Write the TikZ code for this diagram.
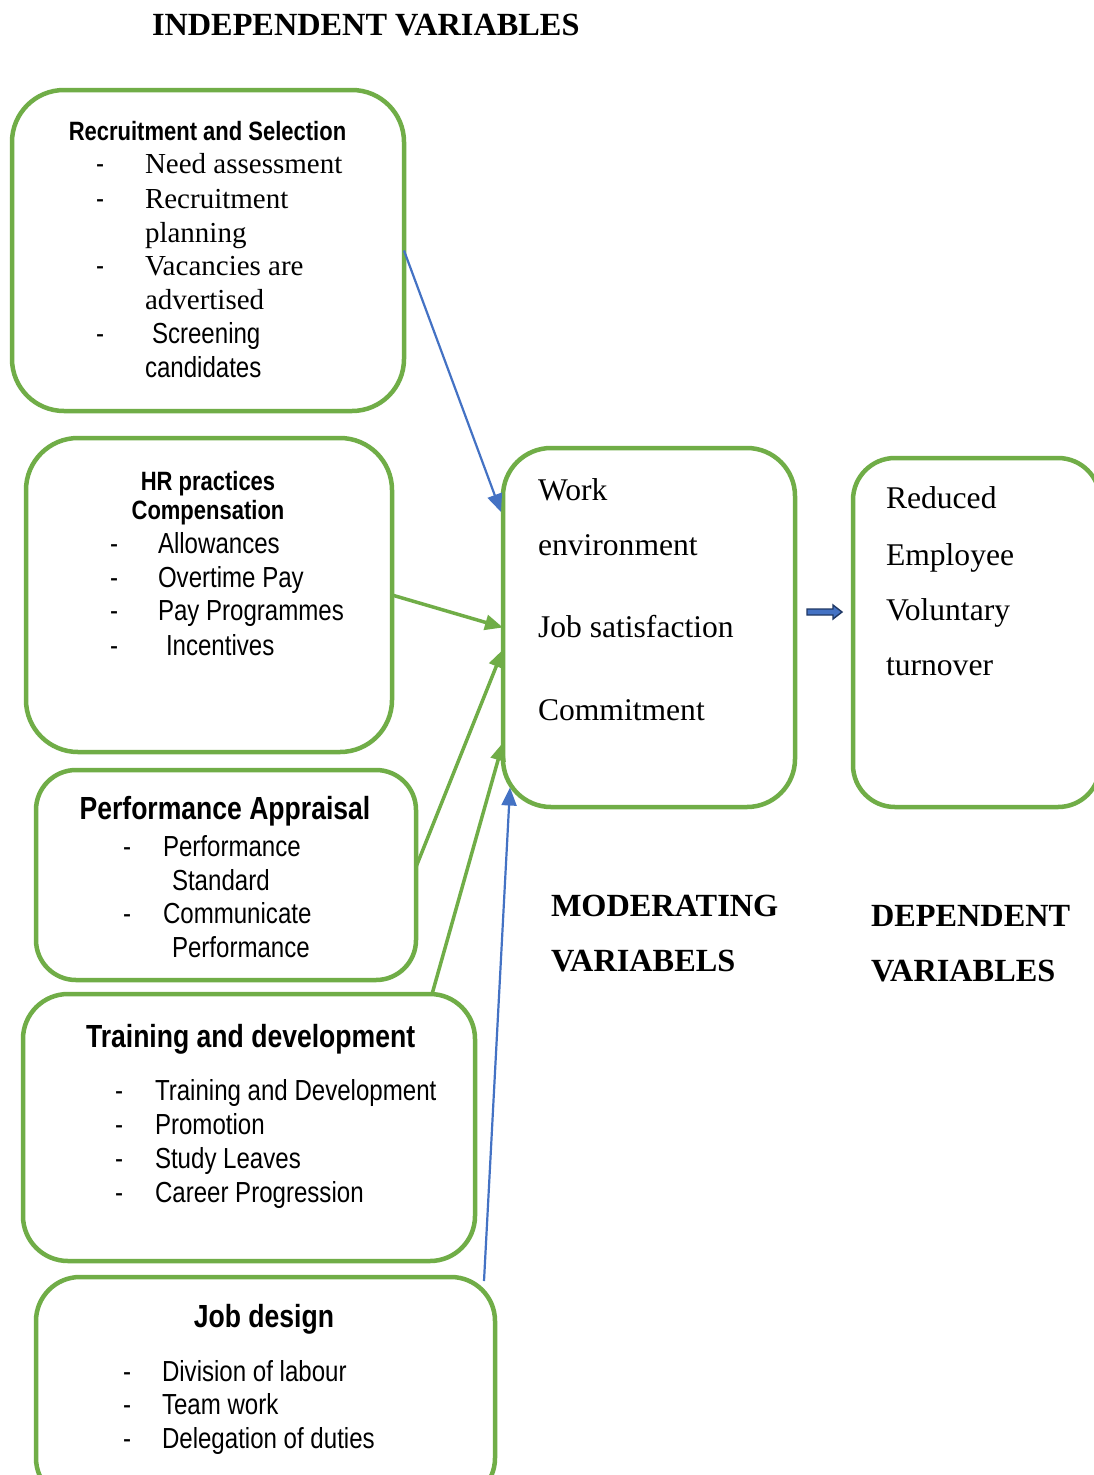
\documentclass[tikz,border=0pt]{standalone}
\usepackage{fontspec}
\setmainfont{Liberation Serif}
\newfontfamily\narrow[FakeStretch=0.83]{Liberation Sans}
\usetikzlibrary{arrows.meta,calc}
\definecolor{hrgreen}{HTML}{70AD47}
\definecolor{hrblue}{HTML}{4472C4}
\definecolor{hrnavy}{HTML}{203864}

\begin{document}
\begin{tikzpicture}[x=1pt,y=-1pt,
  frame/.style={draw=hrgreen, line width=4.5pt, rounded corners=#1,
                inner sep=0pt, outer sep=0pt, anchor=north west},
  lbl/.style={anchor=base west, inner sep=0pt, outer sep=0pt},
  ctr/.style={anchor=base, inner sep=0pt, outer sep=0pt},
  txtrm/.style={font=\fontsize{29}{34}\selectfont},
  txtsf/.style={font=\narrow\fontsize{29}{34}\selectfont},
  hdsf/.style={font=\narrow\bfseries\fontsize{26.5}{30}\selectfont},
  hdsfl/.style={font=\narrow\bfseries\fontsize{32}{38}\selectfont},
  txtbig/.style={font=\fontsize{31.6}{38}\selectfont},
  hdrm/.style={font=\bfseries\fontsize{32.3}{38}\selectfont},
  gline/.style={draw=hrgreen, line width=3.5pt, -{Triangle[length=18pt,width=15pt]}},
  bline/.style={draw=hrblue, line width=2.2pt, -{Triangle[length=18pt,width=15pt]}},
]
\useasboundingbox (0,0) rectangle (1094,1475);
\clip (0,0) rectangle (1094,1475);
\fill[white] (0,0) rectangle (1094,1475);

% ---------- headings ----------
\node[hdrm, lbl] (hind) at (152,35) {INDEPENDENT VARIABLES};
\node[hdrm, lbl] (hmod1) at (551,916) {MODERATING};
\node[hdrm, lbl] (hmod2) at (551,971) {VARIABELS};
\node[hdrm, lbl] (hdep1) at (871,926) {DEPENDENT};
\node[hdrm, lbl] (hdep2) at (871,981) {VARIABLES};

% ---------- frames ----------
\node[frame=52, minimum width=392pt, minimum height=321pt] (rs)  at (12,90) {};
\node[frame=52, minimum width=366pt, minimum height=314pt] (hr)  at (26,438) {};
\node[frame=40, minimum width=380pt, minimum height=210pt] (pa)  at (36,770) {};
\node[frame=45, minimum width=452pt, minimum height=267pt] (td)  at (23,994) {};
\node[frame=44, minimum width=459pt, minimum height=225pt] (jd)  at (36,1277) {};
\node[frame=48, minimum width=292pt, minimum height=359pt] (mid) at (503,448) {};
\node[frame=42, minimum width=247pt, minimum height=349pt] (dep) at (853,458) {};

% ---------- recruitment and selection ----------
\node[hdsf, ctr] (rsh) at (207.5,140) {Recruitment and Selection};
\node[txtsf, lbl] (rsd1) at (96,173) {-};
\node[txtrm, lbl] (rs1) at (145,173) {Need assessment};
\node[txtsf, lbl] (rsd2) at (96,208) {-};
\node[txtrm, lbl] (rs2) at (145,208) {Recruitment};
\node[txtrm, lbl] (rs3) at (145,242) {planning};
\node[txtsf, lbl] (rsd3) at (96,275) {-};
\node[txtrm, lbl] (rs4) at (145,275) {Vacancies are};
\node[txtrm, lbl] (rs5) at (145,309) {advertised};
\node[txtsf, lbl] (rsd4) at (96,343) {-};
\node[txtsf, lbl] (rs6) at (152,343) {Screening};
\node[txtsf, lbl] (rs7) at (145,377) {candidates};

% ---------- HR practices ----------
\node[hdsf, ctr] (hrh1) at (208,490) {HR practices};
\node[hdsf, ctr] (hrh2) at (208,519) {Compensation};
\node[txtsf, lbl] (hrd1) at (110,553) {-};
\node[txtsf, lbl] (hr1) at (158,553) {Allowances};
\node[txtsf, lbl] (hrd2) at (110,587) {-};
\node[txtsf, lbl] (hr2) at (158,587) {Overtime Pay};
\node[txtsf, lbl] (hrd3) at (110,620) {-};
\node[txtsf, lbl] (hr3) at (158,620) {Pay Programmes};
\node[txtsf, lbl] (hrd4) at (110,655) {-};
\node[txtsf, lbl] (hr4) at (166,655) {Incentives};

% ---------- performance appraisal ----------
\node[hdsfl, ctr] (pah) at (225,819) {Performance Appraisal};
\node[txtsf, lbl] (pad1) at (123,856) {-};
\node[txtsf, lbl] (pa1) at (163,856) {Performance};
\node[txtsf, lbl] (pa2) at (172,890) {Standard};
\node[txtsf, lbl] (pad2) at (123,923) {-};
\node[txtsf, lbl] (pa3) at (163,923) {Communicate};
\node[txtsf, lbl] (pa4) at (172,957) {Performance};

% ---------- training and development ----------
\node[hdsfl, lbl] (tdh) at (86,1047) {Training and development};
\node[txtsf, lbl] (tdd1) at (115,1100) {-};
\node[txtsf, lbl] (td1) at (155,1100) {Training and Development};
\node[txtsf, lbl] (tdd2) at (115,1134) {-};
\node[txtsf, lbl] (td2) at (155,1134) {Promotion};
\node[txtsf, lbl] (tdd3) at (115,1168) {-};
\node[txtsf, lbl] (td3) at (155,1168) {Study Leaves};
\node[txtsf, lbl] (tdd4) at (115,1202) {-};
\node[txtsf, lbl] (td4) at (155,1202) {Career Progression};

% ---------- job design ----------
\node[hdsfl, ctr] (jdh) at (264,1327) {Job design};
\node[txtsf, lbl] (jdd1) at (123,1381) {-};
\node[txtsf, lbl] (jd1) at (162,1381) {Division of labour};
\node[txtsf, lbl] (jdd2) at (123,1414) {-};
\node[txtsf, lbl] (jd2) at (162,1414) {Team work};
\node[txtsf, lbl] (jdd3) at (123,1448) {-};
\node[txtsf, lbl] (jd3) at (162,1448) {Delegation of duties};

% ---------- moderating variables ----------
\node[txtbig, lbl] (m1) at (538,500) {Work};
\node[txtbig, lbl] (m2) at (538,555) {environment};
\node[txtbig, lbl] (m3) at (538,637) {Job satisfaction};
\node[txtbig, lbl] (m4) at (538,720) {Commitment};

% ---------- dependent variable ----------
\node[txtbig, lbl] (d1) at (886,508) {Reduced};
\node[txtbig, lbl] (d2) at (886,565) {Employee};
\node[txtbig, lbl] (d3) at (886,620) {Voluntary};
\node[txtbig, lbl] (d4) at (886,675) {turnover};

% ---------- connectors ----------
\coordinate (tdtop) at ($(td.north west)!0.905!(td.north east)$);
\coordinate (jdtop) at ($(jd.north east)+(-11,4)$);
\draw[bline] (rs.east) -- ($(mid.west)+(-2,-115.5)$);
\draw[gline] (hr.east) -- (mid.west);
\draw[gline] ($(pa.east)+(0,-8)$) -- ($(mid.west)+(0,22)$);
\draw[gline] (tdtop) -- ($(mid.west)+(0,115)$);
\draw[bline] (jdtop) -- ($(mid.west)+(7,160)$);

% block arrow towards the outcome
\coordinate (da) at ($(mid.east)+(12,-15.5)$);
\filldraw[fill=hrblue, draw=hrnavy, line width=1.4pt, line join=miter]
  ($(da)+(0,-3)$) -- ++(26,0) -- ++(0,-4) -- ++(9,7) -- ++(-9,7)
  -- ++(0,-4) -- ++(-26,0) -- cycle;
\end{tikzpicture}
\end{document}
